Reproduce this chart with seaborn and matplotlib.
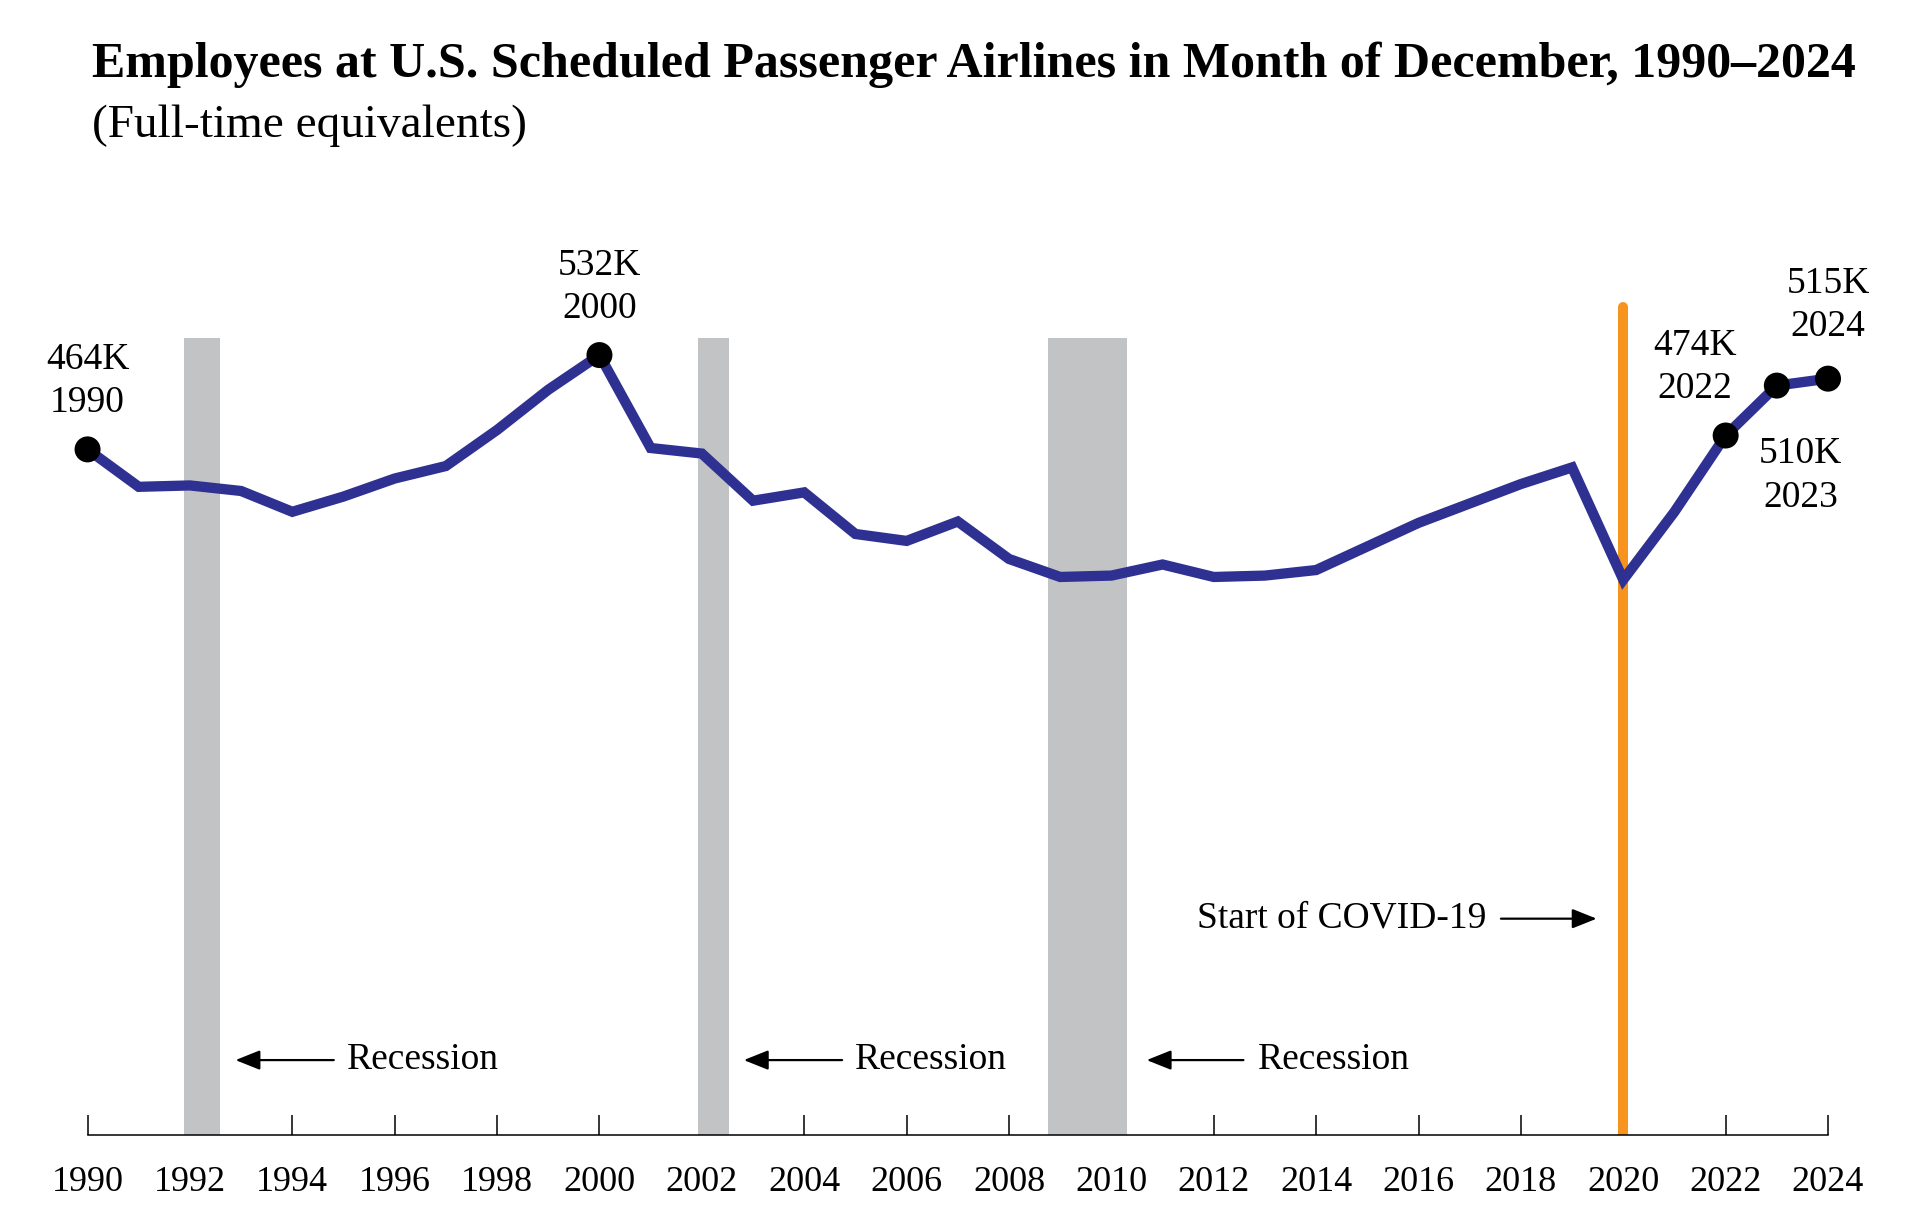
import matplotlib.pyplot as plt
import matplotlib.transforms as mtransforms
import pandas as pd
import seaborn as sns

# December full-time equivalents, thousands
years = list(range(1990, 2025))
employees_k = [464, 437, 438, 434, 419, 430, 443, 452, 478, 507,
               532, 465, 461, 427, 433, 403, 398, 412, 385, 372,
               373, 381, 372, 373, 377, 394, 411, 425, 439, 451,
               370, 419, 474, 510, 515]

labeled_years = [1990, 2000, 2022, 2023, 2024]
labeled_text = ["464K", "532K", "474K", "510K", "515K"]
recessions = [(1991.88, 1992.59), (2001.92, 2002.54), (2008.77, 2010.31)]
covid_year = 2020
tick_years = list(range(1990, 2025, 2))

title = "Employees at U.S. Scheduled Passenger Airlines in Month of December, 1990\u20132024"
subtitle = "(Full-time equivalents)"

sns.set_theme(style="white")
plt.rcParams["font.family"] = ["Liberation Serif", "DejaVu Serif"]
plt.rcParams["text.color"] = "black"
plt.rcParams["xtick.color"] = "black"
plt.rcParams["xtick.labelcolor"] = "black"

df = pd.DataFrame({"year": years, "employees": employees_k})
marked = df[df["year"].isin(labeled_years)]

fig = plt.figure(figsize=(19.2, 12.32), dpi=100)
ax = fig.add_axes([0.0456, 0.0787, 0.9065, 0.7183])

line_color = "#2E3192"
band_color = "#C2C3C5"
covid_color = "#F7941D"

for start, end in recessions:
    ax.axvspan(start, end, ymin=0, ymax=0.9006, color=band_color, lw=0, zorder=1)
ax.axvline(covid_year, ymin=0, ymax=0.936, color=covid_color, lw=7.2, zorder=2)

sns.lineplot(data=df, x="year", y="employees", ax=ax, color=line_color,
             linewidth=7.4, zorder=3, solid_joinstyle="miter")
sns.scatterplot(data=marked, x="year", y="employees", ax=ax, color="black",
                s=350, edgecolor="none", zorder=4)
for coll in ax.collections:
    coll.set_clip_on(False)

offsets = {1990: (0, 49), 2000: (0, 49), 2022: (-22, 49),
           2023: (17, -65), 2024: (0, 53)}
for yr, txt in zip(labeled_years, labeled_text):
    val = employees_k[years.index(yr)]
    ax.annotate(f"{txt}\n{yr}", xy=(yr, val), xytext=offsets[yr],
                textcoords="offset points", ha="center", va="center",
                fontsize=27, linespacing=1.33, color="black", zorder=5)

trans = mtransforms.blended_transform_factory(ax.transData, ax.transAxes)
arrow = dict(arrowstyle="-|>,head_length=0.75,head_width=0.3", lw=1.6,
             color="black", shrinkA=0, shrinkB=0, mutation_scale=20)
for head, tail, tx in [(1992.89, 1994.81, 1995.07),
                       (2002.82, 2004.74, 2004.99),
                       (2010.69, 2012.58, 2012.86)]:
    ax.annotate("", xy=(head, 0.0847), xytext=(tail, 0.0847),
                xycoords=trans, textcoords=trans, arrowprops=arrow)
    ax.text(tx, 0.0847, "Recession", transform=trans, ha="left",
            va="center", fontsize=27, color="black")

ax.annotate("", xy=(2019.48, 0.2445), xytext=(2017.61, 0.2445),
            xycoords=trans, textcoords=trans, arrowprops=arrow)
ax.text(2017.33, 0.2445, "Start of COVID-19", transform=trans, ha="right",
        va="center", fontsize=27, color="black")

ax.set_xlim(1990, 2024)
ax.set_ylim(-30.4, 607.7)
ax.set_xticks(tick_years)
ax.set_xticklabels([str(t) for t in tick_years])
ax.set_yticks([])
ax.set_xlabel("")
ax.set_ylabel("")
ax.tick_params(axis="x", direction="in", length=14.4, width=1.1,
               color="black", labelcolor="black", labelsize=26, pad=22,
               bottom=True)
for side in ["left", "right", "top"]:
    ax.spines[side].set_visible(False)
ax.spines["bottom"].set_color("black")
ax.spines["bottom"].set_linewidth(1.1)
ax.patch.set_alpha(0)

fig.text(0.0479, 1 - 77 / 1232, title, fontsize=36, fontweight="bold",
         va="baseline", ha="left", color="black")
fig.text(0.0479, 1 - 137 / 1232, subtitle, fontsize=34, va="baseline",
         ha="left", color="black")

fig.savefig("out.png", dpi=100, facecolor="white")
